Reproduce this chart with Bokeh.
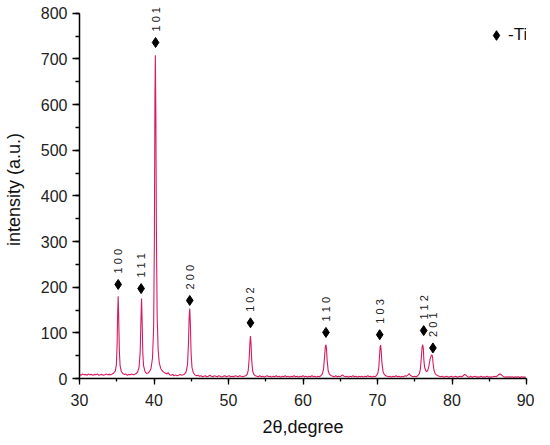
import math
from bokeh.plotting import figure
from bokeh.models import Range1d, SingleIntervalTicker, ColumnDataSource
from bokeh.core.properties import value
from bokeh.embed import file_html
from bokeh.resources import INLINE

# ---- XRD pattern (2theta, intensity) ----
two_theta = [
    30.0, 30.2, 30.4, 30.6, 30.8, 31.0, 31.2, 31.4, 31.6, 31.8,
    32.0, 32.2, 32.4, 32.6, 32.8, 33.0, 33.2, 33.4, 33.6, 33.8,
    34.0, 34.2, 34.4, 34.6, 34.8, 34.95, 35.05, 35.12, 35.19, 35.26,
    35.35, 35.45, 35.6, 35.8, 36.0, 36.2, 36.4, 36.6, 36.8, 37.0,
    37.2, 37.4, 37.6, 37.8, 38.0, 38.15, 38.25, 38.33, 38.41, 38.5,
    38.6, 38.8, 39.0, 39.2, 39.4, 39.6, 39.8, 39.95, 40.05, 40.12,
    40.18, 40.25, 40.32, 40.42, 40.55, 40.7, 40.9, 41.1, 41.3, 41.5,
    41.7, 41.9, 42.1, 42.3, 42.5, 42.7, 42.9, 43.1, 43.3, 43.5,
    43.7, 43.9, 44.1, 44.3, 44.5, 44.62, 44.72, 44.8, 44.88, 44.98,
    45.1, 45.3, 45.5, 45.7, 45.9, 46.1, 46.3, 46.5, 46.7, 46.9,
    47.1, 47.3, 47.5, 47.7, 47.9, 48.1, 48.3, 48.5, 48.7, 48.9,
    49.1, 49.3, 49.5, 49.7, 49.9, 50.1, 50.3, 50.5, 50.7, 50.9,
    51.1, 51.3, 51.5, 51.7, 51.9, 52.1, 52.3, 52.5, 52.65, 52.78,
    52.88, 52.95, 53.03, 53.12, 53.25, 53.4, 53.6, 53.8, 54.0, 54.2,
    54.4, 54.6, 54.8, 55.0, 55.2, 55.4, 55.6, 55.8, 56.0, 56.2,
    56.4, 56.6, 56.8, 57.0, 57.2, 57.4, 57.6, 57.8, 58.0, 58.2,
    58.4, 58.6, 58.8, 59.0, 59.2, 59.4, 59.6, 59.8, 60.0, 60.2,
    60.4, 60.6, 60.8, 61.0, 61.2, 61.4, 61.6, 61.8, 62.0, 62.2,
    62.4, 62.6, 62.75, 62.9, 63.0, 63.08, 63.15, 63.25, 63.38, 63.55,
    63.8, 64.0, 64.2, 64.4, 64.6, 64.8, 65.0, 65.3, 65.5, 65.7,
    65.9, 66.1, 66.3, 66.5, 66.7, 66.9, 67.1, 67.3, 67.5, 67.7,
    67.9, 68.1, 68.3, 68.5, 68.7, 68.9, 69.1, 69.3, 69.5, 69.7,
    69.9, 70.05, 70.18, 70.28, 70.36, 70.42, 70.5, 70.6, 70.75, 70.9,
    71.1, 71.3, 71.5, 71.7, 71.9, 72.1, 72.3, 72.5, 72.7, 72.9,
    73.1, 73.3, 73.5, 73.7, 73.9, 74.1, 74.25, 74.4, 74.6, 74.8,
    75.0, 75.2, 75.4, 75.6, 75.75, 75.88, 75.98, 76.07, 76.15, 76.22,
    76.32, 76.45, 76.6, 76.75, 76.9, 77.05, 77.2, 77.32, 77.4, 77.48,
    77.6, 77.75, 77.9, 78.1, 78.3, 78.5, 78.7, 78.9, 79.1, 79.3,
    79.5, 79.7, 79.9, 80.1, 80.3, 80.5, 80.7, 80.9, 81.1, 81.3,
    81.5, 81.7, 81.9, 82.1, 82.3, 82.5, 82.7, 82.9, 83.1, 83.3,
    83.5, 83.7, 83.9, 84.1, 84.3, 84.5, 84.7, 84.9, 85.1, 85.3,
    85.5, 85.7, 85.9, 86.1, 86.3, 86.5, 86.7, 86.9, 87.1, 87.3,
    87.5, 87.7, 87.9, 88.1, 88.3, 88.5, 88.7, 88.9, 89.1, 89.3,
    89.5, 89.7, 89.9, 90.0,
]
intensity = [
    9, 7, 10, 8, 9, 7, 10, 8, 9, 7,
    9, 8, 10, 7, 8, 9, 7, 8, 10, 8,
    9, 8, 10, 12, 16, 30, 75, 140, 180, 135,
    60, 28, 16, 11, 9, 10, 7, 9, 8, 10,
    8, 9, 11, 14, 25, 60, 130, 175, 125, 55,
    28, 15, 11, 12, 15, 22, 45, 110, 300, 600,
    708, 580, 330, 140, 65, 35, 22, 17, 14, 12,
    10, 13, 8, 7, 9, 6, 8, 6, 7, 9,
    7, 8, 10, 14, 30, 75, 135, 153, 120, 55,
    24, 12, 8, 6, 7, 5, 6, 4, 5, 6,
    4, 5, 7, 5, 4, 6, 5, 4, 6, 5,
    3, 5, 6, 4, 5, 6, 4, 5, 4, 6,
    5, 4, 6, 5, 4, 5, 6, 9, 18, 45,
    80, 93, 75, 38, 16, 9, 6, 5, 4, 6,
    4, 5, 3, 5, 6, 4, 5, 3, 5, 4,
    6, 4, 5, 3, 5, 4, 6, 4, 5, 3,
    5, 4, 6, 4, 5, 3, 5, 4, 6, 4,
    5, 3, 5, 4, 6, 4, 5, 3, 5, 4,
    6, 10, 20, 48, 70, 74, 65, 38, 17, 9,
    6, 5, 4, 6, 4, 5, 4, 8, 5, 4,
    5, 3, 5, 4, 6, 4, 5, 3, 5, 4,
    5, 3, 5, 4, 6, 4, 5, 3, 5, 4,
    7, 12, 25, 52, 70, 73, 60, 33, 15, 9,
    6, 5, 4, 5, 3, 5, 4, 6, 4, 5,
    3, 5, 4, 6, 5, 8, 11, 7, 5, 4,
    5, 4, 6, 10, 20, 45, 68, 74, 66, 42,
    25, 18, 15, 18, 27, 42, 50, 52, 45, 30,
    17, 11, 8, 6, 5, 4, 5, 3, 4, 5,
    3, 4, 5, 3, 4, 5, 3, 4, 5, 4,
    6, 9, 7, 4, 3, 5, 3, 4, 5, 3,
    4, 3, 5, 3, 4, 3, 5, 3, 4, 3,
    4, 5, 4, 6, 9, 10, 7, 4, 3, 4,
    3, 4, 3, 4, 2, 4, 3, 4, 2, 4,
    3, 3, 3,
]

# ---- Ti reflections: position, marker height, Miller index label ----
peak_theta = [35.19, 38.27, 40.21, 44.80, 52.95, 63.08, 70.30, 76.20, 77.44]
peak_mark = [206, 197, 736, 171, 122, 101, 96, 105, 67]
peak_hkl = ["1 0 0", "1 1 1", "1 0 1", "2 0 0", "1 0 2", "1 1 0", "1 0 3", "1 1 2", "2 0 1"]

x_ticks_interval = 10
y_ticks_interval = 100

FONT = "Liberation Sans"

p = figure(width=534, height=445, output_backend="svg", toolbar_location=None,
           x_range=Range1d(30, 90), y_range=Range1d(0, 828),
           min_border_left=72, min_border_right=8, min_border_top=0, min_border_bottom=67)
p.outline_line_color = None
p.xgrid.visible = False
p.ygrid.visible = False
p.background_fill_color = "white"
p.border_fill_color = "white"

p.line(two_theta, intensity, line_color="#d81b60", line_width=1.1)

src = ColumnDataSource(dict(x=peak_theta, y=peak_mark, t=peak_hkl))
p.scatter("x", "y", source=src, marker="diamond", size=10, color="black",
          legend_label="-Ti")
p.text("x", "y", text="t", source=src, angle=math.pi / 2, text_align="left",
       text_baseline="middle", y_offset=-11, text_font=value(FONT),
       text_font_size="11px", text_color="#222222")

for ax in (p.xaxis[0], p.yaxis[0]):
    ax.axis_line_width = 1.5
    ax.axis_line_color = "black"
    ax.major_tick_line_color = "black"
    ax.minor_tick_line_color = "black"
    ax.major_tick_line_width = 1.3
    ax.minor_tick_line_width = 1.3
    ax.major_tick_in = 0
    ax.minor_tick_in = 0
    ax.major_label_text_font = FONT
    ax.major_label_text_font_size = "16px"
    ax.major_label_text_color = "#222222"
    ax.axis_label_text_font = FONT
    ax.axis_label_text_font_size = "18px"
    ax.axis_label_text_font_style = "normal"
    ax.axis_label_text_color = "#111111"

p.xaxis.ticker = SingleIntervalTicker(interval=x_ticks_interval, num_minor_ticks=2)
p.yaxis.ticker = SingleIntervalTicker(interval=y_ticks_interval, num_minor_ticks=2)
p.xaxis.major_tick_out = 6
p.xaxis.minor_tick_out = 3
p.yaxis.major_tick_out = 7
p.yaxis.minor_tick_out = 4
p.xaxis.major_label_standoff = 9
p.yaxis.major_label_standoff = 5
p.yaxis.bounds = (0, 800)
p.xaxis.axis_label = "2θ,degree"
p.yaxis.axis_label = "intensity (a.u.)"
p.xaxis.axis_label_standoff = 8
p.yaxis.axis_label_standoff = 14

lg = p.legend[0]
lg.location = (405, 331)
lg.background_fill_alpha = 0
lg.border_line_color = None
lg.padding = 0
lg.margin = 0
lg.glyph_width = 24
lg.glyph_height = 24
lg.label_standoff = 0
lg.label_text_font = FONT
lg.label_text_font_size = "17px"
lg.label_text_color = "#111111"

open("out.html", "w").write(file_html(p, INLINE))
